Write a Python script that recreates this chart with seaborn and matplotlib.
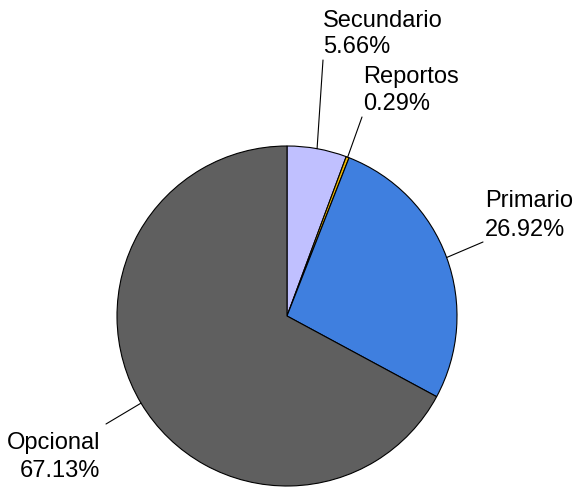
import matplotlib
matplotlib.use("Agg")
import numpy as np
import matplotlib.pyplot as plt
import seaborn as sns

# data
labels = ["Secundario", "Reportos", "Primario", "Opcional"]
shares = [5.66, 0.29, 26.92, 67.13]
colors = ["#C0C0FF", "#F0B800", "#3F7FDF", "#5F5F5F"]

# label text positions (pixels): left/right x, first and second baseline
label_pos = {
    "Secundario": (323, 27, 53, "left"),
    "Reportos": (363, 83, 110, "left"),
    "Primario": (485, 207, 236, "left"),
    "Opcional": (100, 449, 477, "right"),
}
# end of each leader line (pixels)
leader_end = {
    "Secundario": (323, 60),
    "Reportos": (362, 117),
    "Primario": (483, 242),
    "Opcional": (106, 424),
}

sns.set_style("white")
plt.rcParams["font.family"] = ["Liberation Sans", "DejaVu Sans"]
plt.rcParams["text.color"] = "black"

W, H = 574, 487
CX, CY, R = 287, 316, 170

fig = plt.figure(figsize=(W / 100, H / 100), dpi=100)
ax = fig.add_axes([(CX - R) / W, (H - CY - R) / H, 2 * R / W, 2 * R / H])

wedges, _ = ax.pie(shares, colors=colors, startangle=90, counterclock=False,
                   radius=1, wedgeprops=dict(edgecolor="black", linewidth=0.8))
ax.set_xlim(-1, 1)
ax.set_ylim(-1, 1)
ax.set_aspect("equal")
ax.axis("off")


def to_data(px, py):
    return (px - CX) / R, (CY - py) / R


for w, lab, val in zip(wedges, labels, shares):
    mid = np.deg2rad((w.theta1 + w.theta2) / 2)
    x0, y0 = np.cos(mid), np.sin(mid)
    x1, y1 = to_data(*leader_end[lab])
    ax.plot([x0, x1], [y0, y1], color="black", linewidth=0.8, clip_on=False)

    tx, b1, b2, ha = label_pos[lab]
    lx, ly1 = to_data(tx, b1)
    _, ly2 = to_data(tx, b2)
    ax.text(lx, ly1, lab, ha=ha, va="baseline", fontsize=17,
            color="black", clip_on=False)
    ax.text(lx, ly2, f"{val:.2f}%", ha=ha, va="baseline", fontsize=17,
            color="black", clip_on=False)

fig.savefig("out.png", dpi=100)
